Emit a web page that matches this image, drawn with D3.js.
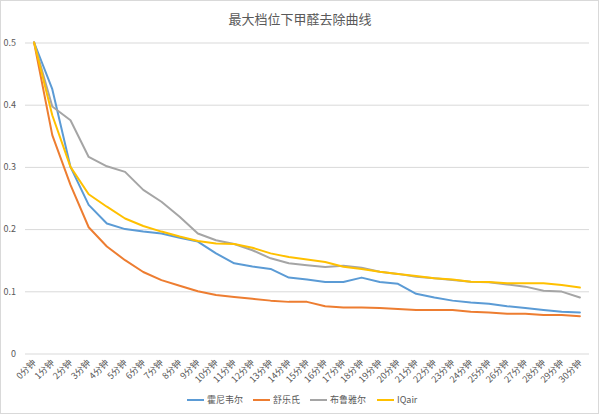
<!DOCTYPE html>
<html><head><meta charset="utf-8">
<script src="https://cdn.jsdelivr.net/npm/d3@7"></script>
<style>body{margin:0;background:#fff}svg{display:block}</style>
</head><body>
<svg id="chart" width="600" height="415"></svg>
<script>
const title = "最大档位下甲醛去除曲线";
const categories = Array.from({length:31},(_,i)=>i+"分钟");
const yTicks = [0,0.1,0.2,0.3,0.4,0.5];
const seriesNames = ["霍尼韦尔","舒乐氏","布鲁雅尔","IQair"];
const honeywell = [0.5,0.425,0.30,0.239,0.209,0.200,0.196,0.193,0.186,0.180,0.161,0.145,0.140,0.136,0.122,0.119,0.115,0.115,0.122,0.115,0.112,0.096,0.090,0.085,0.082,0.080,0.076,0.073,0.070,0.067,0.066];
const shulesi = [0.5,0.351,0.271,0.203,0.172,0.150,0.131,0.118,0.109,0.100,0.094,0.091,0.088,0.085,0.083,0.083,0.076,0.074,0.074,0.073,0.0715,0.070,0.070,0.070,0.067,0.066,0.064,0.064,0.062,0.062,0.060];
const bruyaer = [0.5,0.397,0.375,0.316,0.301,0.292,0.263,0.244,0.220,0.193,0.182,0.176,0.166,0.153,0.145,0.142,0.139,0.141,0.138,0.1315,0.128,0.1235,0.121,0.118,0.1155,0.1145,0.111,0.1075,0.101,0.0995,0.090];
const iqair = [0.5,0.383,0.30,0.256,0.236,0.217,0.205,0.196,0.188,0.181,0.177,0.176,0.170,0.161,0.155,0.151,0.147,0.1395,0.136,0.1315,0.128,0.1245,0.121,0.119,0.1155,0.115,0.113,0.113,0.113,0.110,0.106];
const seriesValues = [honeywell, shulesi, bruyaer, iqair];
const colors = ["#5B9BD5","#ED7D31","#A5A5A5","#FFC000"];

const svg = d3.select("#chart");
const font = "'Noto Sans CJK SC','Noto Sans',sans-serif";
svg.append("rect").attr("x",0.5).attr("y",0.5).attr("width",598).attr("height",413)
  .attr("fill","#fff").attr("stroke","#d9d9d9");

const x = d3.scalePoint().domain(categories).range([25,589]).padding(0.5);
const y = d3.scaleLinear().domain([0,0.5]).range([353.5,42.5]);

svg.append("text").attr("x",300).attr("y",24).attr("text-anchor","middle")
  .attr("font-family",font).attr("font-size",13).attr("fill","#595959").text(title);

const yAxis = d3.axisLeft(y).tickValues(yTicks).tickSize(-564).tickFormat(d=>d===0?"0":d3.format(".1f")(d));
const gy = svg.append("g").attr("transform","translate(25,0)").call(yAxis);
gy.select(".domain").remove();
gy.selectAll(".tick line").attr("stroke","#d9d9d9").attr("stroke-width",1);
gy.selectAll(".tick text").attr("x",-9).attr("font-family",font).attr("font-size",9).attr("fill","#595959");

const xAxis = d3.axisBottom(x).tickSize(0);
const gx = svg.append("g").attr("transform","translate(0,353.5)").call(xAxis);
gx.select(".domain").remove();
gx.selectAll(".tick text").attr("font-family",font).attr("font-size",9).attr("fill","#595959")
  .attr("text-anchor","end").attr("dy",0).attr("y",0)
  .attr("transform","translate(2,10) rotate(-45)");

const line = d3.line().x((d,i)=>x(categories[i])).y(d=>y(d));
seriesValues.forEach((vals,k)=>{
  svg.append("path").datum(vals).attr("d",line).attr("fill","none")
    .attr("stroke",colors[k]).attr("stroke-width",2).attr("stroke-linejoin","round").attr("stroke-linecap","round");
});

const legendX = [187,253,310,377];
const lg = svg.append("g");
seriesNames.forEach((n,k)=>{
  lg.append("line").attr("x1",legendX[k]).attr("x2",legendX[k]+17).attr("y1",400).attr("y2",400)
    .attr("stroke",colors[k]).attr("stroke-width",2);
  lg.append("text").attr("x",legendX[k]+20).attr("y",403).attr("font-family",font).attr("font-size",9)
    .attr("fill","#595959").text(n);
});
</script>
</body></html>
